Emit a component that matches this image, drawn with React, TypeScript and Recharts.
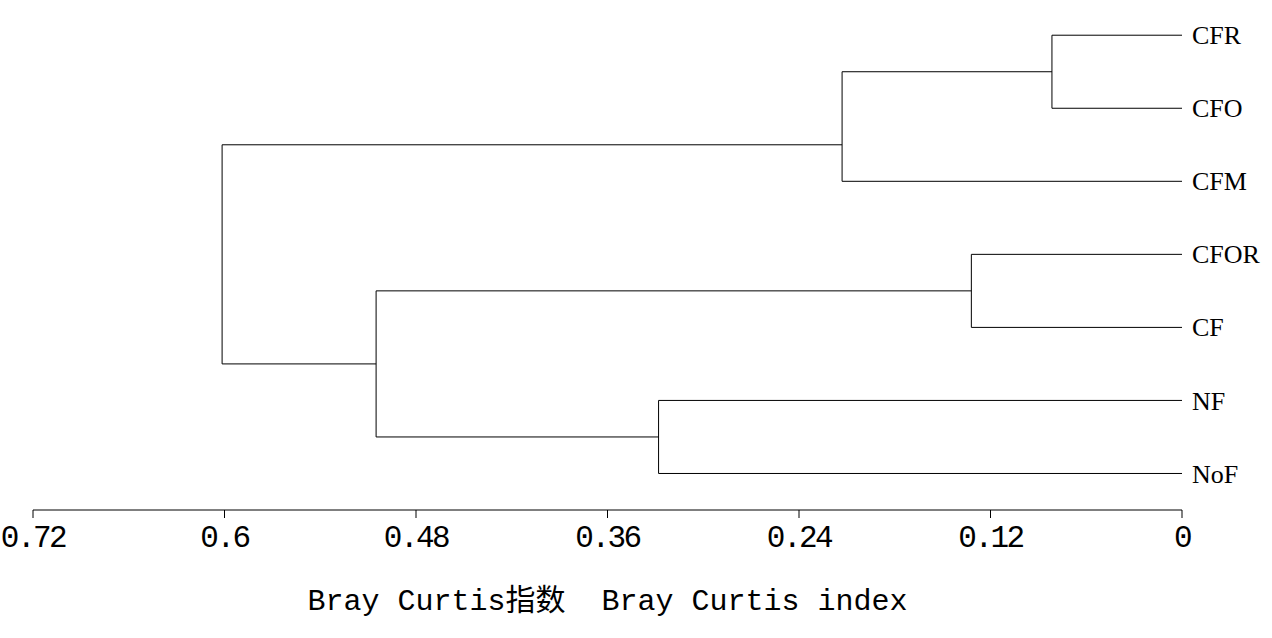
import { ScatterChart, Scatter, XAxis, YAxis } from "recharts"

// leaves top to bottom, row 6 is the top
const leaves = ["CFR", "CFO", "CFM", "CFOR", "CF", "NF", "NoF"]
const leafRow = [6, 5, 4, 3, 2, 1, 0]

// merges: ids 0..6 are leaves, 7.. are merge nodes in order
const mergeA = [0, 7, 3, 5, 9, 8]
const mergeB = [1, 2, 4, 6, 10, 11]
const mergeHeight = [0.0815, 0.213, 0.132, 0.328, 0.505, 0.6015]
const mergeRow = [5.5, 4.5, 2.5, 0.5, 1.5, 3]

const xTicks = [0.72, 0.6, 0.48, 0.36, 0.24, 0.12, 0]
const axisTitle = "Bray Curtis指数  Bray Curtis index"

const nodeH = (id: number) => (id < leaves.length ? 0 : mergeHeight[id - leaves.length])
const nodeRow = (id: number) => (id < leaves.length ? leafRow[id] : mergeRow[id - leaves.length])

const links = mergeA.map((a, i) => {
  const b = mergeB[i]
  const h = mergeHeight[i]
  return [
    { x: nodeH(a), y: nodeRow(a) },
    { x: h, y: nodeRow(a) },
    { x: h, y: nodeRow(b) },
    { x: nodeH(b), y: nodeRow(b) },
  ]
})

const monoFont = "'Liberation Mono', 'Noto Sans CJK SC', monospace"

function LeafTick(props: any) {
  const { y, payload } = props
  const idx = leafRow.indexOf(payload.value)
  return (
    <text x={1192} y={y} dy="0.35em" fontFamily="'Liberation Serif', serif" fontSize={26} fill="#000">
      {leaves[idx]}
    </text>
  )
}

function AxisTitle(props: any) {
  const { viewBox } = props
  const cx = viewBox.x + viewBox.width / 2
  return (
    <text
      x={cx}
      y={610}
      textAnchor="middle"
      fontFamily={monoFont}
      fontSize={30}
      fill="#000"
      style={{ whiteSpace: "pre" }}
    >
      {axisTitle}
    </text>
  )
}

export default function App() {
  return (
    <div style={{ width: 1272, height: 638, background: "#fff" }}>
      <style>{"body{margin:0}"}</style>
      <ScatterChart width={1272} height={638} margin={{ top: 6, right: 0, bottom: 68, left: 33 }}>
        <XAxis
          type="number"
          dataKey="x"
          domain={[0, 0.72]}
          reversed
          allowDataOverflow
          ticks={xTicks}
          interval={0}
          height={60}
          tickSize={8}
          tickMargin={7}
          stroke="#000"
          tick={{ fill: "#000", fontSize: 31, fontFamily: monoFont, letterSpacing: -2.5 }}
          label={<AxisTitle />}
        />
        <YAxis
          type="number"
          dataKey="y"
          orientation="right"
          domain={[-0.5, 6.4]}
          allowDataOverflow
          ticks={leafRow}
          interval={0}
          width={90}
          axisLine={false}
          tickLine={false}
          tick={<LeafTick />}
        />
        {links.map((pts, i) => (
          <Scatter
            key={i}
            data={pts}
            line={{ stroke: "#000", strokeWidth: 1 }}
            lineType="joint"
            shape={() => <g />}
            isAnimationActive={false}
          />
        ))}
      </ScatterChart>
    </div>
  )
}
